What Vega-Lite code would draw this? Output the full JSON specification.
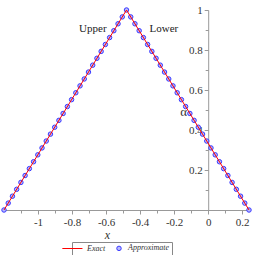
{
  "$schema": "https://vega.github.io/schema/vega-lite/v6.json",
  "width": 245,
  "height": 200,
  "autosize": {"type": "none"},
  "padding": {"left": 4, "top": 10, "right": 6, "bottom": 45},
  "background": "white",
  "config": {"view": {"stroke": null}},
  "datasets": {
    "exact": [
      {"x": -1.2, "y": 0, "series": "Exact"},
      {"x": -0.48, "y": 1, "series": "Exact"},
      {"x": 0.24, "y": 0, "series": "Exact"}
    ],
    "approx": [
      {"x": -1.2, "y": 0, "series": "Approximate"},
      {"x": -1.17517, "y": 0.03448, "series": "Approximate"},
      {"x": -1.15034, "y": 0.06897, "series": "Approximate"},
      {"x": -1.12552, "y": 0.10345, "series": "Approximate"},
      {"x": -1.10069, "y": 0.13793, "series": "Approximate"},
      {"x": -1.07586, "y": 0.17241, "series": "Approximate"},
      {"x": -1.05103, "y": 0.2069, "series": "Approximate"},
      {"x": -1.02621, "y": 0.24138, "series": "Approximate"},
      {"x": -1.00138, "y": 0.27586, "series": "Approximate"},
      {"x": -0.97655, "y": 0.31034, "series": "Approximate"},
      {"x": -0.95172, "y": 0.34483, "series": "Approximate"},
      {"x": -0.9269, "y": 0.37931, "series": "Approximate"},
      {"x": -0.90207, "y": 0.41379, "series": "Approximate"},
      {"x": -0.87724, "y": 0.44828, "series": "Approximate"},
      {"x": -0.85241, "y": 0.48276, "series": "Approximate"},
      {"x": -0.82759, "y": 0.51724, "series": "Approximate"},
      {"x": -0.80276, "y": 0.55172, "series": "Approximate"},
      {"x": -0.77793, "y": 0.58621, "series": "Approximate"},
      {"x": -0.7531, "y": 0.62069, "series": "Approximate"},
      {"x": -0.72828, "y": 0.65517, "series": "Approximate"},
      {"x": -0.70345, "y": 0.68966, "series": "Approximate"},
      {"x": -0.67862, "y": 0.72414, "series": "Approximate"},
      {"x": -0.65379, "y": 0.75862, "series": "Approximate"},
      {"x": -0.62897, "y": 0.7931, "series": "Approximate"},
      {"x": -0.60414, "y": 0.82759, "series": "Approximate"},
      {"x": -0.57931, "y": 0.86207, "series": "Approximate"},
      {"x": -0.55448, "y": 0.89655, "series": "Approximate"},
      {"x": -0.52966, "y": 0.93103, "series": "Approximate"},
      {"x": -0.50483, "y": 0.96552, "series": "Approximate"},
      {"x": -0.48, "y": 1, "series": "Approximate"},
      {"x": -0.45517, "y": 0.96552, "series": "Approximate"},
      {"x": -0.43034, "y": 0.93103, "series": "Approximate"},
      {"x": -0.40552, "y": 0.89655, "series": "Approximate"},
      {"x": -0.38069, "y": 0.86207, "series": "Approximate"},
      {"x": -0.35586, "y": 0.82759, "series": "Approximate"},
      {"x": -0.33103, "y": 0.7931, "series": "Approximate"},
      {"x": -0.30621, "y": 0.75862, "series": "Approximate"},
      {"x": -0.28138, "y": 0.72414, "series": "Approximate"},
      {"x": -0.25655, "y": 0.68966, "series": "Approximate"},
      {"x": -0.23172, "y": 0.65517, "series": "Approximate"},
      {"x": -0.2069, "y": 0.62069, "series": "Approximate"},
      {"x": -0.18207, "y": 0.58621, "series": "Approximate"},
      {"x": -0.15724, "y": 0.55172, "series": "Approximate"},
      {"x": -0.13241, "y": 0.51724, "series": "Approximate"},
      {"x": -0.10759, "y": 0.48276, "series": "Approximate"},
      {"x": -0.08276, "y": 0.44828, "series": "Approximate"},
      {"x": -0.05793, "y": 0.41379, "series": "Approximate"},
      {"x": -0.0331, "y": 0.37931, "series": "Approximate"},
      {"x": -0.00828, "y": 0.34483, "series": "Approximate"},
      {"x": 0.01655, "y": 0.31034, "series": "Approximate"},
      {"x": 0.04138, "y": 0.27586, "series": "Approximate"},
      {"x": 0.06621, "y": 0.24138, "series": "Approximate"},
      {"x": 0.09103, "y": 0.2069, "series": "Approximate"},
      {"x": 0.11586, "y": 0.17241, "series": "Approximate"},
      {"x": 0.14069, "y": 0.13793, "series": "Approximate"},
      {"x": 0.16552, "y": 0.10345, "series": "Approximate"},
      {"x": 0.19034, "y": 0.06897, "series": "Approximate"},
      {"x": 0.21517, "y": 0.03448, "series": "Approximate"},
      {"x": 0.24, "y": 0, "series": "Approximate"}
    ],
    "annot": [
      {"x": -0.678, "y": 0.905, "text": "Upper"},
      {"x": -0.26, "y": 0.905, "text": "Lower"}
    ]
  },
  "resolve": {"axis": {"x": "independent", "y": "independent"}},
  "layer": [
    {
      "data": {"name": "approx"},
      "mark": {"type": "point", "filled": false, "fill": "#b8b8ff", "strokeWidth": 1, "size": 20, "opacity": 1},
      "encoding": {
        "x": {
          "field": "x", "type": "quantitative",
          "scale": {"domain": [-1.2, 0.24], "nice": false, "zero": false},
          "axis": {
            "orient": "bottom",
            "values": [-1, -0.8, -0.6, -0.4, -0.2, 0, 0.2],
            "labelExpr": "replace(format(datum.value, '~g'), '−', '-')",
            "grid": false,
            "domainColor": "#999999",
            "tickColor": "#999999",
            "tickSize": 4,
            "labelFont": "Liberation Serif",
            "labelFontSize": 11,
            "labelColor": "#333333",
            "labelPadding": 2,
            "title": "x",
            "titleFont": "Liberation Serif",
            "titleFontStyle": "italic",
            "titleFontWeight": "normal",
            "titleFontSize": 12,
            "titleColor": "#333333",
            "titleX": 103,
            "titlePadding": 2,
            "titleAlign": "center"
          }
        },
        "y": {
          "field": "y", "type": "quantitative",
          "scale": {"domain": [0, 1], "nice": false},
          "axis": {
            "orient": "left",
            "offset": -204.2,
            "values": [0.2, 0.4, 0.6, 0.8, 1],
            "labelExpr": "format(datum.value, '~g')",
            "grid": false,
            "domainColor": "#999999",
            "tickColor": "#999999",
            "tickSize": 4,
            "labelFont": "Liberation Serif",
            "labelFontSize": 11,
            "labelColor": "#333333",
            "labelPadding": 2,
            "title": "α",
            "titleFont": "Liberation Serif",
            "titleFontWeight": "normal",
            "titleFontSize": 13,
            "titleColor": "#333333",
            "titleAngle": 0,
            "titleX": -25,
            "titleY": 101,
            "titleBaseline": "middle",
            "titleAlign": "center"
          }
        },
        "color": {
          "field": "series", "type": "nominal",
          "scale": {"domain": ["Exact", "Approximate"], "range": ["#ff0000", "#3a3aff"]},
          "legend": {
            "title": null,
            "orient": "none",
            "direction": "horizontal",
            "legendX": 68,
            "legendY": 232,
            "strokeColor": "#888888",
            "padding": 2,
            "labelFont": "Liberation Serif",
            "labelFontStyle": "italic",
            "labelFontSize": 8,
            "labelColor": "#333333",
            "labelOffset": 5,
            "symbolSize": 20,
            "symbolStrokeWidth": 1,
            "columnPadding": 8
          }
        },
        "shape": {
          "field": "series", "type": "nominal",
          "scale": {"domain": ["Exact", "Approximate"], "range": ["M-7,0L2,0", "circle"]},
          "legend": {
            "title": null,
            "orient": "none",
            "direction": "horizontal",
            "legendX": 68,
            "legendY": 232,
            "strokeColor": "#888888",
            "padding": 2,
            "labelFont": "Liberation Serif",
            "labelFontStyle": "italic",
            "labelFontSize": 8,
            "labelColor": "#333333",
            "labelOffset": 5,
            "symbolSize": 20,
            "symbolStrokeWidth": 1,
            "columnPadding": 8
          }
        }
      }
    },
    {
      "data": {"name": "exact"},
      "mark": {"type": "line", "color": "#ff0000", "strokeWidth": 1},
      "encoding": {
        "x": {
          "field": "x", "type": "quantitative",
          "axis": {
            "orient": "bottom",
            "values": [-1.1, -0.9, -0.7, -0.5, -0.3, -0.1, 0.1],
            "labels": false,
            "domain": false,
            "grid": false,
            "tickColor": "#999999",
            "tickSize": 3,
            "title": null
          }
        },
        "y": {
          "field": "y", "type": "quantitative",
          "axis": {
            "orient": "left",
            "offset": -204.2,
            "values": [0.1, 0.3, 0.5, 0.7, 0.9],
            "labels": false,
            "domain": false,
            "grid": false,
            "tickColor": "#999999",
            "tickSize": 3,
            "title": null
          }
        }
      }
    },
    {
      "data": {"name": "annot"},
      "mark": {"type": "text", "font": "Liberation Serif", "fontSize": 11, "color": "#222222"},
      "encoding": {
        "x": {"field": "x", "type": "quantitative", "axis": null},
        "y": {"field": "y", "type": "quantitative", "axis": null},
        "text": {"field": "text"}
      }
    }
  ]
}
